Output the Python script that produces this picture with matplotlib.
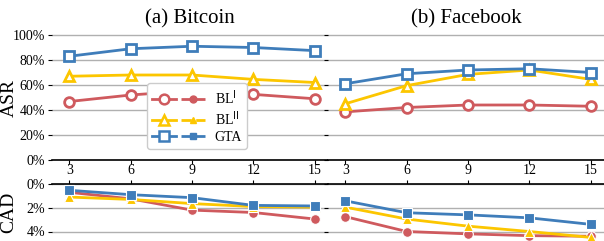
import numpy as np
import matplotlib
matplotlib.use("Agg")
import matplotlib.pyplot as plt
from matplotlib.lines import Line2D
from matplotlib.legend_handler import HandlerTuple
from matplotlib.ticker import FuncFormatter

plt.rcParams['font.family'] = ['Liberation Serif', 'DejaVu Serif']

# data
k = [3, 6, 9, 12, 15]
methods = ['BL$^{\\mathrm{I}}$', 'BL$^{\\mathrm{II}}$', 'GTA']
colors = ['#cf5a5e', '#fcc600', '#3f7dba']
markers = ['o', '^', 's']

# ASR (%)
asr_btc_bl1 = [46.8, 52, 55.5, 52.5, 49]
asr_btc_bl2 = [67, 68, 68, 64.5, 62]
asr_btc_gta = [83, 89, 91, 90, 87.5]
asr_fb_bl1 = [38.5, 42, 44, 44, 43]
asr_fb_bl2 = [45, 59.5, 68.5, 72, 64.5]
asr_fb_gta = [61, 69, 72, 73, 70]

# CAD (%)
cad_btc_bl1 = [0.7, 1.25, 2.2, 2.4, 2.95]
cad_btc_bl2 = [1.1, 1.3, 1.65, 1.9, 1.95]
cad_btc_gta = [0.53, 0.9, 1.15, 1.8, 1.85]
cad_fb_bl1 = [2.75, 4.0, 4.2, 4.35, 4.4]
cad_fb_bl2 = [1.95, 2.95, 3.55, 4.0, 4.5]
cad_fb_gta = [1.42, 2.42, 2.6, 2.85, 3.4]

asr = [[asr_btc_bl1, asr_btc_bl2, asr_btc_gta], [asr_fb_bl1, asr_fb_bl2, asr_fb_gta]]
cad = [[cad_btc_bl1, cad_btc_bl2, cad_btc_gta], [cad_fb_bl1, cad_fb_bl2, cad_fb_gta]]
titles = ['(a) Bitcoin', '(b) Facebook']

W, H = 604, 241
fig = plt.figure(figsize=(W / 100, H / 100), dpi=100)

def box(x0, y0, x1, y1):
    return [x0 / W, 1 - y1 / H, (x1 - x0) / W, (y1 - y0) / H]

pct = FuncFormatter(lambda v, p: f'{v:.0f}%')
tick_kw = dict(labelsize=10, length=3, width=0.8, color='black', pad=2)

for j in range(2):
    x0 = 52 + j * 276
    x1 = x0 + 276
    ax = fig.add_axes(box(x0, 30, x1, 160))
    bx = fig.add_axes(box(x0, 184, x1, 241))

    for i in range(3):
        ax.plot(k, asr[j][i], color=colors[i], lw=2, marker=markers[i],
                ms=7, mfc='white', mec=colors[i], mew=2, zorder=3, clip_on=False)
        bx.plot(k, cad[j][i], color=colors[i], lw=2, marker=markers[i],
                ms=7, mfc=colors[i], mec='white', mew=0.8, zorder=3)

    for a in (ax, bx):
        a.set_xlim(2.15, 15.65)
        a.set_xticks(k)
        a.grid(axis='y', color='#b0b0b0', lw=1)
        a.set_axisbelow(True)
        for s in ('left', 'right', 'top', 'bottom'):
            a.spines[s].set_visible(False)
        a.tick_params(**tick_kw)

    ax.set_ylim(0, 104)
    ax.set_yticks([0, 20, 40, 60, 80, 100])
    ax.yaxis.set_major_formatter(pct)
    ax.spines['bottom'].set_visible(True)
    ax.spines['bottom'].set_linewidth(1.2)
    ax.tick_params(axis='x', labelbottom=False)
    ax.set_title(titles[j], fontsize=15, pad=5)

    bx.set_ylim(4.8, 0)
    bx.set_yticks([0, 2, 4])
    bx.yaxis.set_major_formatter(pct)
    bx.spines['top'].set_visible(True)
    bx.spines['top'].set_linewidth(1.2)
    bx.tick_params(axis='x', top=True, bottom=False, labeltop=True, labelbottom=False)

    if j == 0:
        ax.set_ylabel('ASR', fontsize=14)
        ax.yaxis.set_label_coords(-0.125, 0.48)
        bx.set_ylabel('CAD', fontsize=14)
        bx.yaxis.set_label_coords(-0.125, 0.5)
        handles = []
        for i in range(3):
            h1 = Line2D([], [], color=colors[i], lw=2, marker=markers[i], ms=7,
                        mfc='white', mec=colors[i], mew=1.8)
            h2 = Line2D([], [], color=colors[i], lw=2, ls='--', marker=markers[i],
                        ms=5, mfc=colors[i], mec=colors[i])
            handles.append((h1, h2))
        ax.legend(handles, methods, handler_map={tuple: HandlerTuple(ndivide=None, pad=0.3)},
                  loc='lower left', bbox_to_anchor=(0.32, 0.03), fontsize=10,
                  handlelength=3.8, frameon=True, framealpha=1, edgecolor='#cccccc',
                  borderpad=0.35, labelspacing=0.22, handletextpad=0.7)
    else:
        ax.tick_params(axis='y', labelleft=False)
        bx.tick_params(axis='y', labelleft=False)

fig.savefig('out.png', dpi=100)
